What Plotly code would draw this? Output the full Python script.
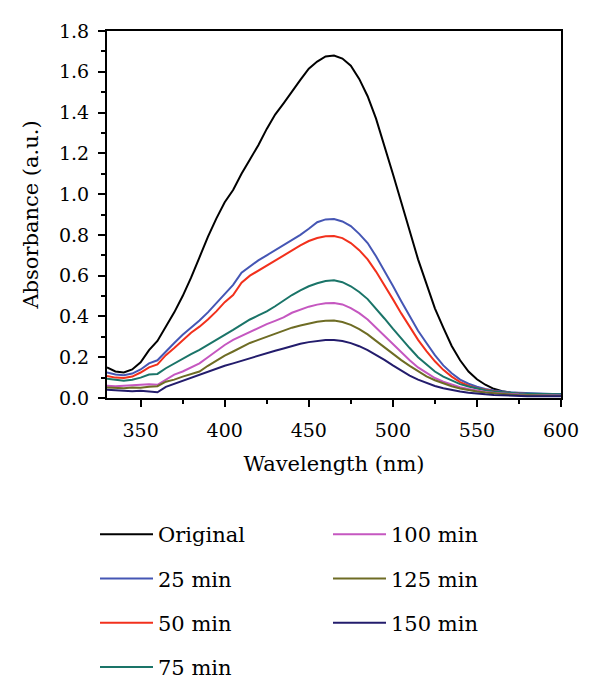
import plotly.graph_objects as go

wavelength = list(range(330, 601, 5))

original = [0.150, 0.130, 0.125, 0.140, 0.175, 0.235, 0.280, 0.350, 0.420, 0.500,
            0.590, 0.690, 0.790, 0.880, 0.960, 1.020, 1.100, 1.170, 1.240, 1.320,
            1.390, 1.445, 1.505, 1.560, 1.615, 1.650, 1.675, 1.680, 1.665, 1.630,
            1.565, 1.480, 1.370, 1.240, 1.100, 0.960, 0.820, 0.680, 0.560, 0.440,
            0.345, 0.255, 0.185, 0.130, 0.092, 0.065, 0.045, 0.033, 0.026, 0.022,
            0.020, 0.018, 0.017, 0.016, 0.015]
min25 = [0.125, 0.115, 0.112, 0.120, 0.140, 0.170, 0.185, 0.230, 0.270, 0.310,
         0.345, 0.380, 0.420, 0.465, 0.515, 0.555, 0.615, 0.645, 0.675, 0.700,
         0.725, 0.750, 0.775, 0.800, 0.830, 0.862, 0.876, 0.878, 0.866, 0.843,
         0.805, 0.760, 0.695, 0.625, 0.550, 0.475, 0.400, 0.330, 0.270, 0.210,
         0.160, 0.121, 0.090, 0.070, 0.055, 0.044, 0.037, 0.032, 0.028, 0.026,
         0.024, 0.022, 0.021, 0.020, 0.020]
min50 = [0.108, 0.100, 0.098, 0.105, 0.125, 0.150, 0.165, 0.210, 0.245, 0.285,
         0.320, 0.350, 0.385, 0.425, 0.470, 0.505, 0.565, 0.600, 0.625, 0.650,
         0.672, 0.697, 0.722, 0.748, 0.770, 0.785, 0.793, 0.794, 0.784, 0.760,
         0.725, 0.680, 0.620, 0.555, 0.485, 0.415, 0.350, 0.285, 0.230, 0.180,
         0.138, 0.105, 0.078, 0.060, 0.048, 0.039, 0.033, 0.028, 0.024, 0.022,
         0.020, 0.018, 0.017, 0.016, 0.015]
min75 = [0.095, 0.090, 0.085, 0.090, 0.100, 0.115, 0.118, 0.146, 0.170, 0.195,
         0.215, 0.236, 0.262, 0.288, 0.310, 0.334, 0.360, 0.385, 0.405, 0.425,
         0.450, 0.478, 0.505, 0.528, 0.548, 0.563, 0.574, 0.577, 0.568, 0.548,
         0.520, 0.485, 0.440, 0.390, 0.340, 0.290, 0.245, 0.200, 0.163, 0.130,
         0.105, 0.085, 0.068, 0.056, 0.046, 0.038, 0.032, 0.028, 0.025, 0.022,
         0.021, 0.020, 0.019, 0.018, 0.018]
min100 = [0.060, 0.058, 0.060, 0.062, 0.063, 0.068, 0.065, 0.090, 0.115, 0.130,
          0.150, 0.170, 0.200, 0.230, 0.260, 0.285, 0.305, 0.325, 0.345, 0.362,
          0.378, 0.395, 0.418, 0.435, 0.448, 0.458, 0.465, 0.466, 0.459, 0.441,
          0.416, 0.385, 0.345, 0.302, 0.262, 0.222, 0.185, 0.150, 0.122, 0.098,
          0.080, 0.065, 0.053, 0.044, 0.036, 0.030, 0.026, 0.022, 0.019, 0.017,
          0.015, 0.014, 0.013, 0.012, 0.012]
min125 = [0.052, 0.050, 0.048, 0.052, 0.050, 0.055, 0.058, 0.080, 0.090, 0.105,
          0.118, 0.130, 0.158, 0.185, 0.208, 0.228, 0.250, 0.270, 0.285, 0.300,
          0.315, 0.330, 0.345, 0.356, 0.366, 0.374, 0.379, 0.380, 0.373, 0.359,
          0.338, 0.312, 0.280, 0.248, 0.218, 0.186, 0.158, 0.130, 0.106, 0.087,
          0.071, 0.058, 0.047, 0.039, 0.032, 0.027, 0.023, 0.019, 0.016, 0.014,
          0.013, 0.012, 0.011, 0.010, 0.010]
min150 = [0.040, 0.038, 0.036, 0.033, 0.035, 0.030, 0.028, 0.055, 0.070, 0.085,
          0.100, 0.113, 0.130, 0.145, 0.158, 0.170, 0.183, 0.195, 0.207, 0.220,
          0.232, 0.243, 0.256, 0.266, 0.274, 0.280, 0.284, 0.285, 0.280, 0.269,
          0.254, 0.235, 0.212, 0.187, 0.160, 0.135, 0.110, 0.090, 0.073, 0.059,
          0.048, 0.039, 0.032, 0.026, 0.021, 0.018, 0.015, 0.013, 0.011, 0.010,
          0.009, 0.009, 0.008, 0.008, 0.008]

names = ["Original", "25 min", "50 min", "75 min", "100 min", "125 min", "150 min"]
series = [original, min25, min50, min75, min100, min125, min150]
colors = ["#000000", "#4556b4", "#f2301c", "#1a7468", "#c557c0", "#6e6c24", "#231c6c"]

FONT = "DejaVu Serif"

fig = go.Figure()
for i, (nm, ys, c) in enumerate(zip(names, series, colors)):
    fig.add_trace(go.Scatter(
        x=wavelength, y=ys, mode="lines", name=nm,
        line=dict(color=c, width=2),
        legend="legend" if i < 4 else "legend2",
        legendgroup=nm,
    ))

PL, PR, PT, PB = 107, 561, 31, 398
W, H = 600, 692


def px_to_paper_x(px):
    return (px - PL) / (PR - PL)


def px_to_paper_y(py):
    return (PB - py) / (PB - PT)


legend_common = dict(
    font=dict(family=FONT, size=21, color="black"),
    xanchor="left", yanchor="top",
    tracegroupgap=14, bgcolor="rgba(0,0,0,0)",
    itemwidth=53,
)

fig.update_layout(
    width=W, height=H,
    margin=dict(l=PL, r=W - PR, t=PT, b=H - PB, autoexpand=False),
    paper_bgcolor="white", plot_bgcolor="white",
    font=dict(family=FONT, size=19, color="black"),
    showlegend=True,
    legend=dict(x=px_to_paper_x(95), y=px_to_paper_y(514), **legend_common),
    legend2=dict(x=px_to_paper_x(328), y=px_to_paper_y(514), **legend_common),
)

fig.update_xaxes(
    range=[330, 600], dtick=50, tick0=0, automargin=False,
    showline=True, linewidth=2, linecolor="black", mirror=True,
    ticks="outside", ticklen=7, tickwidth=2, tickcolor="black",
    minor=dict(dtick=25, ticks="outside", ticklen=4, tickwidth=2, tickcolor="black"),
    showgrid=False, zeroline=False,
    ticklabelstandoff=7,
    tickfont=dict(family=FONT, size=19),
    title=dict(text="Wavelength (nm)", font=dict(family=FONT, size=21), standoff=17),
)
fig.update_yaxes(
    range=[0, 1.8], dtick=0.2, tick0=0, tickformat=".1f", automargin=False,
    showline=True, linewidth=2, linecolor="black", mirror=True,
    ticks="outside", ticklen=7, tickwidth=2, tickcolor="black",
    minor=dict(dtick=0.1, ticks="outside", ticklen=4, tickwidth=2, tickcolor="black"),
    showgrid=False, zeroline=False,
    ticklabelstandoff=5,
    tickfont=dict(family=FONT, size=19),
    title=dict(text="Absorbance (a.u.)", font=dict(family=FONT, size=21), standoff=15),
)

fig.write_html("out.html")
